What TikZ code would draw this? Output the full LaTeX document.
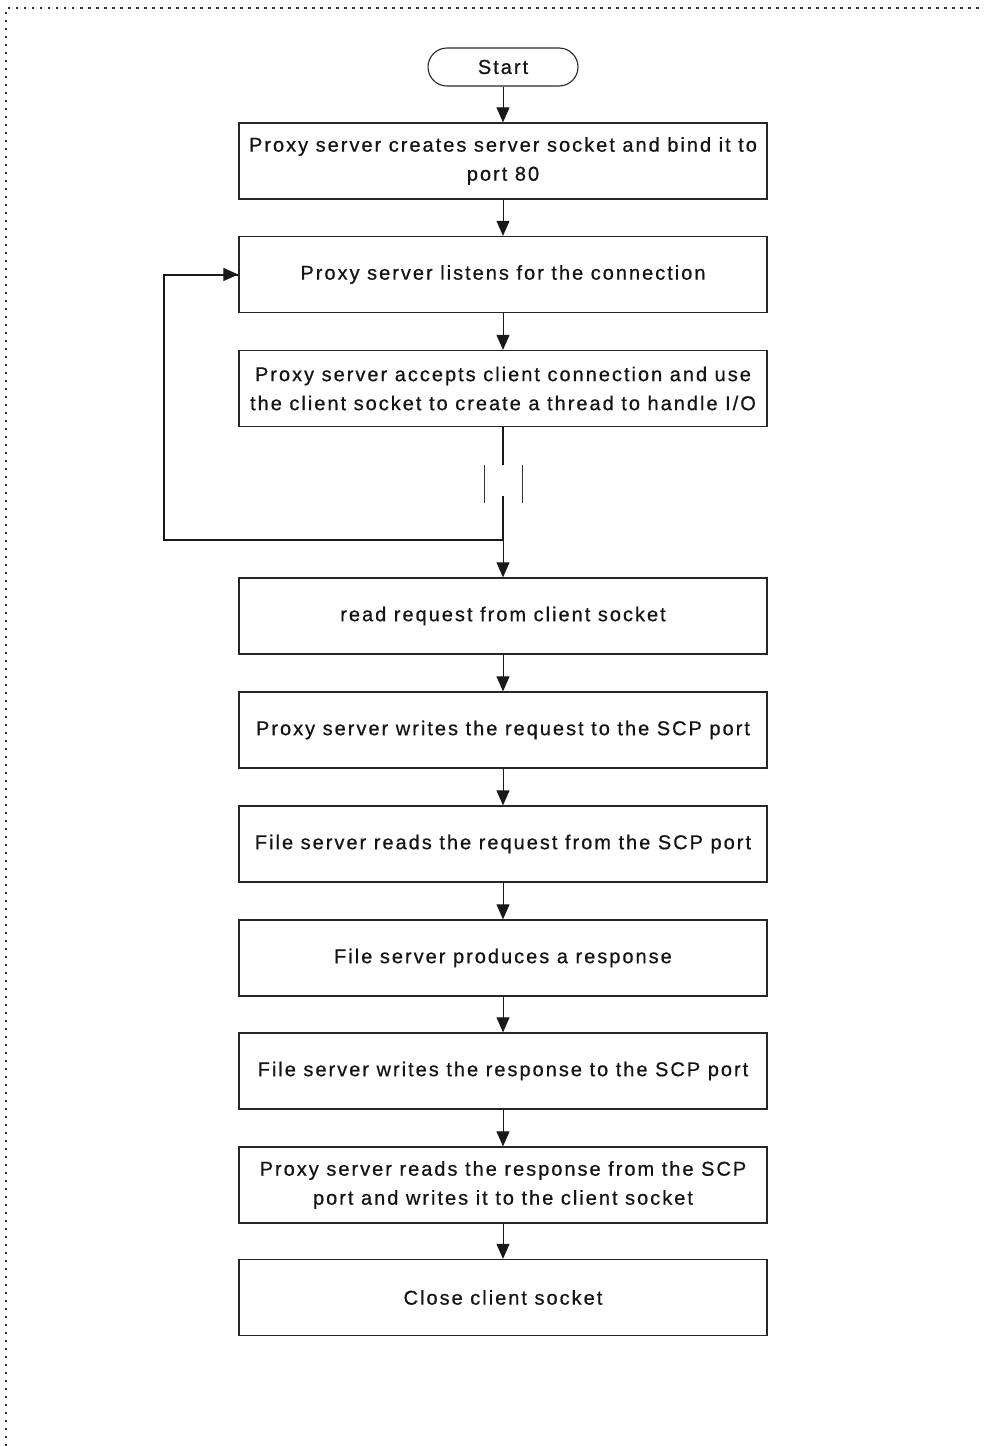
\documentclass[tikz,border=0pt]{standalone}
\usepackage{fontspec}
\setmainfont{Liberation Sans}[LetterSpace=10,FakeBold=0.7]
\usetikzlibrary{arrows.meta,positioning}
\begin{document}
\begin{tikzpicture}[x=1pt,y=-1pt,
  font=\fontsize{20}{29}\selectfont,
  stepbox/.style={draw=black!85,line width=1.3pt,minimum width=528pt,minimum height=76pt,
    align=center,inner sep=0pt,text=black!92},
  startbox/.style={draw=black!85,line width=1.1pt,rounded corners=19pt,minimum width=150pt,
    minimum height=38pt,inner sep=0pt,text=black!92},
  flow/.style={draw=black!90,line width=1pt,-{Triangle[width=13pt,length=15pt]}},
  loopline/.style={draw=black!90,line width=2pt},
  frame/.style={draw=black!80,line width=2pt,dash pattern=on 2.5pt off 5.5pt}]
\useasboundingbox (0,0) rectangle (984,1446);
% page frame (only top and left edges fall inside the picture)
\draw[frame] (6,1446) -- (6,8) -- (984,8);

\node[startbox] (start) at (503,67) {Start};
\node[stepbox] (s1) at (503,161) {Proxy server creates server socket and bind it to\\port 80};
\node[stepbox] (s2) at (503,274.5) {Proxy server listens for the connection};
\node[stepbox] (s3) at (503,388.5) {Proxy server accepts client connection and use\\the client socket to create a thread to handle I/O};
\node[stepbox] (s4) at (503,616) {read request from client socket};
\node[stepbox] (s5) at (503,730) {Proxy server writes the request to the SCP port};
\node[stepbox] (s6) at (503,844) {File server reads the request from the SCP port};
\node[stepbox] (s7) at (503,958) {File server produces a response};
\node[stepbox] (s8) at (503,1071) {File server writes the response to the SCP port};
\node[stepbox] (s9) at (503,1185) {Proxy server reads the response from the SCP\\port and writes it to the client socket};
\node[stepbox] (s10) at (503,1297.5) {Close client socket};

\foreach \a/\b in {start/s1,s1/s2,s2/s3,s4/s5,s5/s6,s6/s7,s7/s8,s8/s9,s9/s10}
  \draw[flow] (\a) -- (\b);

% thread spawn: broken line with side bars, loop back to listening
\coordinate (gapTop) at (503,465);
\coordinate (gapBot) at (503,496);
\coordinate (join) at (503,540);
\coordinate (barL1) at (484,465);
\coordinate (barL2) at (484,503);
\coordinate (barR1) at (522,465);
\coordinate (barR2) at (522,503);
\coordinate (loopL) at (164,540);
\draw[loopline] (s3.south) -- (gapTop);
\draw[loopline] (gapBot) -- (join) -- (loopL) |- (s2.west);
\draw[flow] (loopL |- s2.west) -- (s2.west);
\draw[line width=1pt,black!80] (barL1) -- (barL2) (barR1) -- (barR2);
\draw[flow] (join) -- (s4);
\end{tikzpicture}
\end{document}
